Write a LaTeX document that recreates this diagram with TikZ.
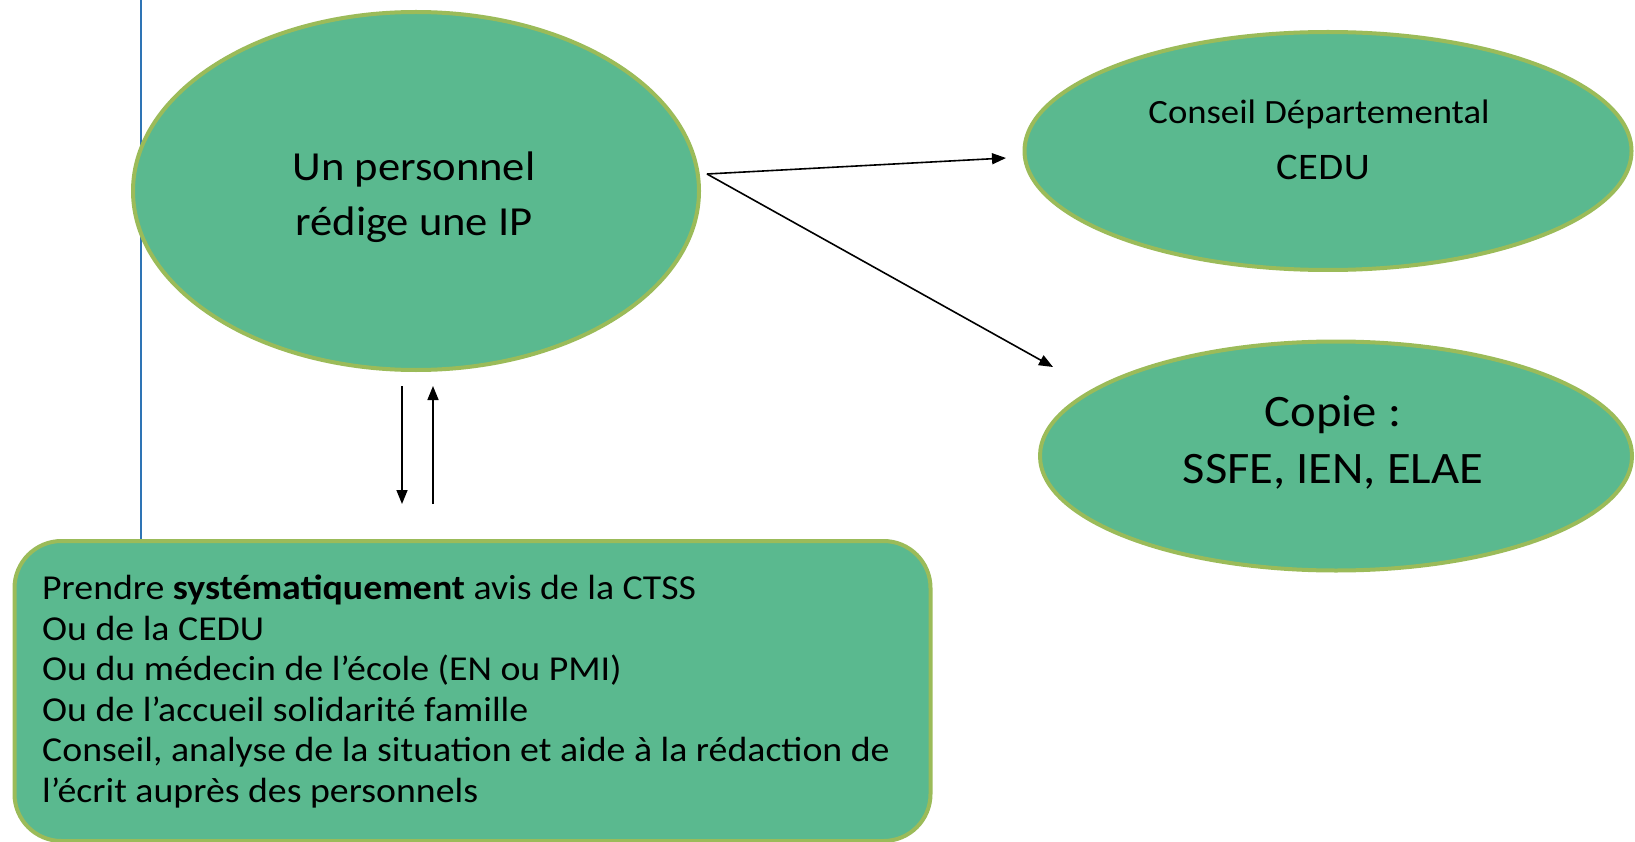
\documentclass[tikz,border=0pt]{standalone}
\usepackage{fontspec}
\usepackage{graphicx}
\setmainfont{Carlito}
\usetikzlibrary{arrows.meta,shapes.geometric}
\definecolor{fillg}{RGB}{90,185,143}
\definecolor{edgeg}{RGB}{155,187,89}
\definecolor{bluel}{RGB}{46,116,181}
\newcommand{\hstr}[1]{\scalebox{1.08}[1]{#1}}
\begin{document}
\begin{tikzpicture}[x=1pt,y=-1pt,
  bub/.style={ellipse, fill=fillg, draw=edgeg, line width=4pt, inner sep=0pt},
  arr/.style={line width=1.6pt, -{Triangle[length=14pt,width=11pt]}},
  txt/.style={inner sep=0pt, anchor=base}]
\useasboundingbox (0,0) rectangle (1635,842);
% blue margin line
\coordinate (b0) at (141,0);
\coordinate (b1) at (141,540);
\draw[bluel, line width=1.6pt] (b0) -- (b1);
% shapes
\node[bub, minimum width=566pt, minimum height=358pt] (e1) at (416,191) {};
\node[bub, minimum width=607pt, minimum height=238pt] (e2) at (1328,151) {};
\node[bub, minimum width=592pt, minimum height=229pt] (e3) at (1336,456) {};
\node[draw=edgeg, fill=fillg, line width=4pt, rounded corners=47pt,
      minimum width=916pt, minimum height=300pt, anchor=north west, inner sep=0pt] (box) at (12.5,539) {};
% texts
\node[txt, font=\fontsize{41.3}{55}\selectfont] (t1a) at (414,181) {\hstr{Un personnel}};
\node[txt, font=\fontsize{41.3}{55}\selectfont] (t1b) at (414,236) {\hstr{rédige une IP}};
\node[txt, font=\fontsize{34}{40}\selectfont] (t2a) at (1319,124) {\hstr{Conseil Départemental}};
\node[txt, font=\fontsize{37.5}{50}\selectfont] (t2b) at (1323,180) {\hstr{C\kern0.5pt E\kern0.5pt D\kern0.5pt U}};
\node[txt, font=\fontsize{45}{56}\selectfont] (t3a) at (1333,426) {\hstr{Copie :}};
\node[txt, font=\fontsize{45}{56}\selectfont] (t3b) at (1333,483) {\hstr{SSFE, IEN, ELAE}};
\node[inner sep=0pt, anchor=north west, font=\fontsize{35}{40.5}\selectfont] (bt) at (42,571)
 {\hstr{\begin{tabular}{@{}l@{}}
  Prendre \textbf{systématiquement} avis de la CTSS\\
  Ou de la CEDU\\
  Ou du médecin de l’école (EN ou PMI)\\
  Ou de l’accueil solidarité famille\\
  Conseil, analyse de la situation et aide à la rédaction de\\
  l’écrit auprès des personnels
  \end{tabular}}};
% arrows
\coordinate (a0) at (707,174);
\coordinate (a1) at (1006,158);
\coordinate (a2) at (1053,367);
\draw[arr] (a0) -- (a1);
\draw[arr] (a0) -- (a2);
\coordinate (d0) at (402,386);
\coordinate (d1) at (402,504);
\coordinate (u0) at (433,504);
\coordinate (u1) at (433,386);
\draw[arr] (d0) -- (d1);
\draw[arr] (u0) -- (u1);
\end{tikzpicture}
\end{document}
